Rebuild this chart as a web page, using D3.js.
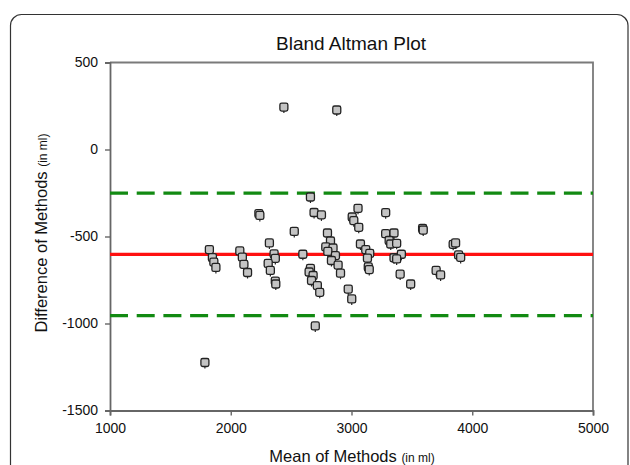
<!DOCTYPE html>
<html>
<head>
<meta charset="utf-8">
<script src="https://cdn.jsdelivr.net/npm/d3@7"></script>
<style>
  html, body { margin: 0; padding: 0; background: #fff; }
  svg { display: block; font-family: "Liberation Sans", Arial, sans-serif; }
</style>
</head>
<body>
<svg id="chart" width="630" height="465"></svg>
<script>
// ---- Data ----
const meanVals = [1823, 1848, 1860, 1877, 2075, 2096, 2109, 2139, 2233, 2241,
  2320, 2359, 2369, 2310, 2328, 2369, 2373, 2526, 2597, 2660,
  2690, 2751, 2801, 2826, 2787, 2847, 2804, 2867, 2834, 2889,
  2660, 2649, 2682, 2669, 2717, 2737, 2909, 2973, 3002, 2700,
  1786, 2440, 2878, 3054, 3006, 3019, 3060, 3074, 3118, 3151,
  3132, 3139, 3147, 3283, 3283, 3352, 3312, 3325, 3374, 3352,
  3413, 3374, 3403, 3490, 3589, 3594, 3701, 3738, 3842, 3862,
  3887, 3904];
const diffVals = [-575, -621, -647, -678, -583, -618, -660, -707, -368, -379,
  -537, -600, -626, -655, -695, -756, -773, -471, -602, -273,
  -362, -376, -480, -526, -560, -566, -586, -610, -638, -664,
  -683, -704, -724, -753, -782, -821, -711, -802, -859, -1014,
  -1224, 244, 227, -338, -388, -409, -447, -543, -575, -597,
  -624, -675, -690, -363, -484, -480, -523, -543, -539, -622,
  -602, -629, -716, -773, -454, -463, -695, -721, -545, -537,
  -606, -620];
const meanDiff = -603;
const loaLimits = [-251, -955];
const xTicks = [1000, 2000, 3000, 4000, 5000];
const yTicks = [500, 0, -500, -1000, -1500];
const xDomain = [1000, 5000];
const yDomain = [-1500, 500];

// ---- Layout ----
const svg = d3.select("#chart");
const pL = 110, pR = 593, pT = 62.5, pB = 410.5;

const x = d3.scaleLinear().domain(xDomain).range([pL, pR]);
const y = d3.scaleLinear().domain(yDomain).range([pB, pT]);

// outer rounded frame
svg.append("rect")
  .attr("x", 10.5).attr("y", 14.5)
  .attr("width", 617.5).attr("height", 480)
  .attr("rx", 11).attr("ry", 11)
  .attr("fill", "none").attr("stroke", "#333").attr("stroke-width", 1.2);

// title
svg.append("text")
  .attr("x", 351).attr("y", 50)
  .attr("text-anchor", "middle")
  .attr("font-size", 19).attr("fill", "#111")
  .text("Bland Altman Plot");

// plot box top & right
svg.append("path")
  .attr("d", `M${pL},${pT}H${pR}V${pB}`)
  .attr("fill", "none").attr("stroke", "#7a7a7a").attr("stroke-width", 1.8);

// axes
const fmt = d => String(d);
const yAxis = d3.axisLeft(y).tickValues(yTicks).tickSize(5).tickPadding(7).tickFormat(fmt);
const xAxis = d3.axisBottom(x).tickValues(xTicks).tickSize(5).tickPadding(8).tickFormat(fmt);

const gy = svg.append("g").attr("transform", `translate(${pL},0)`).call(yAxis);
const gx = svg.append("g").attr("transform", `translate(0,${pB})`).call(xAxis);

[gx, gy].forEach(g => {
  g.select(".domain").attr("stroke", "#666").attr("stroke-width", 1.8);
  g.selectAll(".tick line").attr("stroke", "#666").attr("stroke-width", 1.4);
  g.selectAll(".tick text")
    .attr("font-family", "Liberation Sans, Arial, sans-serif")
    .attr("font-size", 14).attr("fill", "#111");
});

// axis titles
const xt = svg.append("text")
  .attr("x", 352).attr("y", 462)
  .attr("text-anchor", "middle").attr("fill", "#111");
xt.append("tspan").attr("font-size", 16.5).text("Mean of Methods ");
xt.append("tspan").attr("font-size", 12).text("(in ml)");

const yt = svg.append("text")
  .attr("transform", `translate(47,233) rotate(-90)`)
  .attr("text-anchor", "middle").attr("fill", "#111");
yt.append("tspan").attr("font-size", 16.5).text("Difference of Methods ");
yt.append("tspan").attr("font-size", 12).text("(in ml)");

// limits of agreement (green dashed)
svg.selectAll("line.loa").data(loaLimits).enter().append("line")
  .attr("class", "loa")
  .attr("x1", x(xDomain[0])).attr("x2", x(xDomain[1]))
  .attr("y1", d => y(d)).attr("y2", d => y(d))
  .attr("stroke", "#128a12").attr("stroke-width", 3.2)
  .attr("stroke-dasharray", "18,8.7");

// mean difference (red)
svg.append("line")
  .attr("x1", x(xDomain[0])).attr("x2", x(xDomain[1]))
  .attr("y1", y(meanDiff)).attr("y2", y(meanDiff))
  .attr("stroke", "#ff1010").attr("stroke-width", 3.2);

// points
const pts = meanVals.map((m, i) => ({ m, d: diffVals[i] }));
const g = svg.append("g");
const s = 8;
const mk = g.selectAll("g.pt").data(pts).enter().append("g")
  .attr("class", "pt")
  .attr("transform", p => `translate(${x(p.m)},${y(p.d)})`);
mk.append("line")
  .attr("x1", 0).attr("x2", 0).attr("y1", s / 2).attr("y2", s / 2 + 2)
  .attr("stroke", "#222").attr("stroke-width", 1.2);
mk.append("rect")
  .attr("x", -s / 2).attr("y", -s / 2).attr("width", s).attr("height", s)
  .attr("rx", 1.8).attr("ry", 1.8)
  .attr("fill", "#c4c4c4").attr("stroke", "#222").attr("stroke-width", 1.3);
</script>
</body>
</html>
